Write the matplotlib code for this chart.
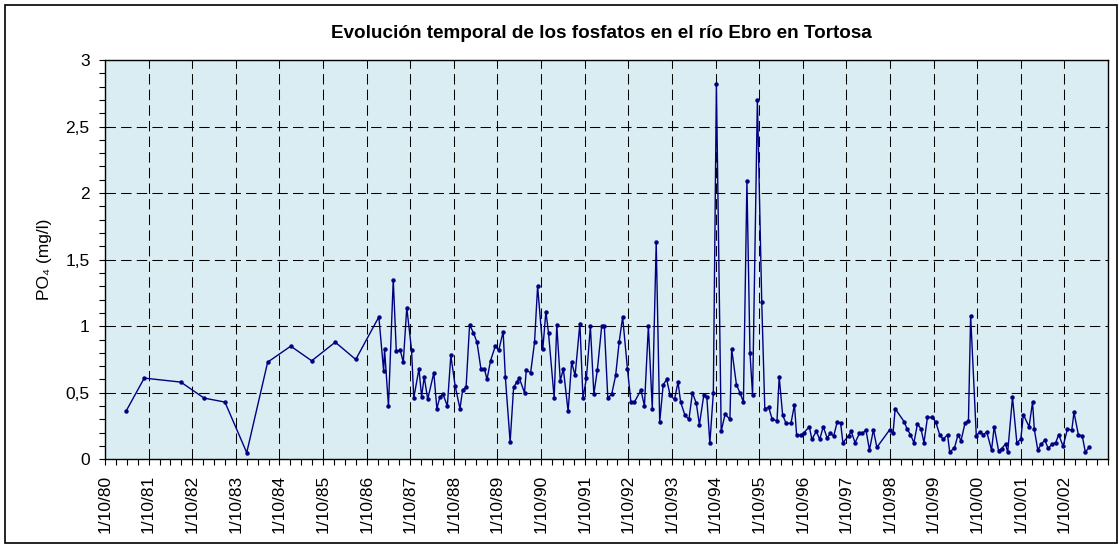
"""Evolucion temporal de los fosfatos en el rio Ebro en Tortosa."""

import matplotlib

matplotlib.use("Agg")
import matplotlib.pyplot as plt
import numpy as np
from matplotlib.patches import Rectangle
from matplotlib.ticker import FixedLocator, FuncFormatter, MultipleLocator

plt.rcParams["font.family"] = ["Liberation Sans", "DejaVu Sans"]

# fecha como año decimal (1/10/80 = 1980.75)
fecha_80s = [
    1981.23, 1981.65, 1982.49, 1983.02, 1983.50, 1984.00, 1984.48, 1985.01,
    1985.49, 1986.03, 1986.50, 1987.03, 1987.14, 1987.16, 1987.25, 1987.36,
    1987.43, 1987.52, 1987.59, 1987.67, 1987.78, 1987.83, 1987.95, 1988.01,
    1988.07, 1988.15, 1988.29, 1988.36, 1988.43, 1988.50, 1988.60, 1988.68,
    1988.78, 1988.89, 1988.95, 1989.03, 1989.11, 1989.20, 1989.28, 1989.37,
    1989.45, 1989.51, 1989.59, 1989.70, 1989.78, 1989.88, 1989.93,
]
po4_80s = [
    0.36, 0.61, 0.58, 0.46, 0.43, 0.05, 0.73, 0.85,
    0.74, 0.88, 0.75, 1.07, 0.66, 0.83, 0.40, 1.35,
    0.81, 0.82, 0.73, 1.14, 0.82, 0.46, 0.68, 0.47,
    0.62, 0.45, 0.65, 0.38, 0.47, 0.49, 0.40, 0.78,
    0.55, 0.38, 0.52, 0.54, 1.01, 0.95, 0.88, 0.68,
    0.68, 0.60, 0.74, 0.85, 0.82, 0.96, 0.62,
]

fecha_90s = [
    1990.04, 1990.12, 1990.19, 1990.25, 1990.37, 1990.41, 1990.51, 1990.60,
    1990.67, 1990.79, 1990.86, 1990.92, 1991.05, 1991.11, 1991.19, 1991.26,
    1991.37, 1991.45, 1991.53, 1991.64, 1991.71, 1991.79, 1991.88, 1991.96,
    1992.04, 1992.14, 1992.20, 1992.28, 1992.37, 1992.46, 1992.54, 1992.62,
    1992.73, 1992.81, 1992.89, 1993.04, 1993.12, 1993.21, 1993.30, 1993.39,
    1993.47, 1993.55, 1993.63, 1993.71, 1993.81, 1993.89, 1993.95, 1994.05,
    1994.14, 1994.22, 1994.31, 1994.38, 1994.48, 1994.55, 1994.62, 1994.70,
    1994.77, 1994.88, 1994.97, 1995.08, 1995.12, 1995.23, 1995.31, 1995.39,
    1995.47, 1995.54, 1995.60, 1995.71, 1995.81, 1995.88, 1995.97, 1996.05,
    1996.16, 1996.21, 1996.29, 1996.37, 1996.48, 1996.56, 1996.61, 1996.70,
    1996.78, 1996.90, 1996.96, 1997.06, 1997.14, 1997.22, 1997.31, 1997.38,
    1997.46, 1997.54, 1997.62, 1997.67, 1997.80, 1997.86, 1997.95, 1998.05,
    1998.12, 1998.20, 1998.28, 1998.37, 1998.45, 1998.74, 1998.82, 1998.87,
    1999.08, 1999.14, 1999.22, 1999.30, 1999.38, 1999.46, 1999.53, 1999.61,
    1999.72, 1999.80, 1999.89, 1999.97,
]
po4_90s = [
    0.13, 0.54, 0.58, 0.61, 0.50, 0.67, 0.65, 0.88,
    1.30, 0.83, 1.11, 0.95, 0.46, 1.01, 0.59, 0.68,
    0.36, 0.73, 0.63, 1.02, 0.46, 0.61, 1.00, 0.49,
    0.67, 1.00, 1.00, 0.46, 0.49, 0.63, 0.88, 1.07,
    0.68, 0.43, 0.43, 0.52, 0.40, 1.00, 0.38, 1.63,
    0.28, 0.56, 0.60, 0.48, 0.45, 0.58, 0.43, 0.33,
    0.30, 0.50, 0.42, 0.26, 0.48, 0.47, 0.12, 0.50,
    2.82, 0.21, 0.34, 0.30, 0.83, 0.56, 0.50, 0.43,
    2.09, 0.80, 0.48, 2.70, 1.18, 0.38, 0.39, 0.30,
    0.29, 0.62, 0.33, 0.27, 0.27, 0.41, 0.18, 0.18,
    0.20, 0.245, 0.15, 0.21, 0.15, 0.245, 0.16, 0.195,
    0.175, 0.28, 0.27, 0.125, 0.175, 0.21, 0.125, 0.195,
    0.195, 0.22, 0.07, 0.22, 0.09, 0.22, 0.195, 0.38,
    0.28, 0.23, 0.185, 0.125, 0.265, 0.23, 0.125, 0.315,
    0.315, 0.28, 0.185, 0.15,
]

fecha_00s = [
    2000.07, 2000.12, 2000.23, 2000.31, 2000.38, 2000.47, 2000.55, 2000.60,
    2000.73, 2000.81, 2000.89, 2000.97, 2001.08, 2001.14, 2001.24, 2001.31,
    2001.40, 2001.45, 2001.56, 2001.66, 2001.75, 2001.81, 2001.94, 2002.02,
    2002.06, 2002.14, 2002.22, 2002.30, 2002.38, 2002.47, 2002.55, 2002.62,
    2002.72, 2002.82, 2002.92, 2002.97, 2003.07, 2003.16, 2003.23, 2003.32,
]
po4_00s = [
    0.185, 0.055, 0.085, 0.185, 0.14, 0.27, 0.29, 1.08,
    0.175, 0.205, 0.185, 0.205, 0.07, 0.245, 0.065, 0.08,
    0.115, 0.053, 0.466, 0.125, 0.15, 0.335, 0.245, 0.43,
    0.225, 0.07, 0.115, 0.143, 0.082, 0.115, 0.125, 0.185,
    0.098, 0.227, 0.22, 0.353, 0.185, 0.175, 0.055, 0.09,
]

etiquetas_x = [f"1/10/{a % 100:02d}" for a in range(1980, 2003)]
titulo = "Evolución temporal de los fosfatos en el río Ebro en Tortosa"

fecha = np.array(fecha_80s + fecha_90s + fecha_00s)
po4 = np.array(po4_80s + po4_90s + po4_00s)

fig = plt.figure(figsize=(11.19, 5.44), dpi=100)
ax = fig.add_axes([105 / 1119, 1 - 459.3 / 544, 1003 / 1119, 399.3 / 544])
ax.set_facecolor("#daedf3")

ax.plot(fecha, po4, color="#000080", linewidth=1.0, marker="o",
        markersize=3.2, markerfacecolor="#000080", markeredgewidth=0, zorder=3)

inicio = 1980 + 9 / 12
ax.set_xlim(inicio, inicio + 23)
ax.set_ylim(0, 3)
ax.xaxis.set_major_locator(FixedLocator(inicio + np.arange(len(etiquetas_x))))
ax.set_xticklabels(etiquetas_x, rotation=90)
ax.xaxis.set_minor_locator(MultipleLocator(0.25))
ax.yaxis.set_major_locator(MultipleLocator(0.5))
ax.yaxis.set_minor_locator(MultipleLocator(0.1))
ax.yaxis.set_major_formatter(FuncFormatter(lambda v, _: f"{v:g}".replace(".", ",")))

ax.tick_params(which="both", direction="out", length=4, width=0.8, colors="black",
               labelsize=12.5, pad=7)
ax.grid(True, which="major", color="black", linewidth=0.75, linestyle=(0, (10, 5)))
ax.set_axisbelow(True)
for s in ax.spines.values():
    s.set_color("black")
    s.set_linewidth(1.0)

ax.set_ylabel("PO₄ (mg/l)", fontsize=12.5)
ax.yaxis.set_label_coords(-0.053, 0.5)

fig.text(601 / 1119, 1 - 33 / 544, titulo, ha="center", va="center",
         fontsize=13.6, fontweight="bold")

fig.patches.append(Rectangle((5 / 1119, 1 / 544), 1112 / 1119, 538 / 544,
                             transform=fig.transFigure, fill=False,
                             edgecolor="black", linewidth=1.2))

fig.savefig("out.png", dpi=100)
plt.close(fig)
